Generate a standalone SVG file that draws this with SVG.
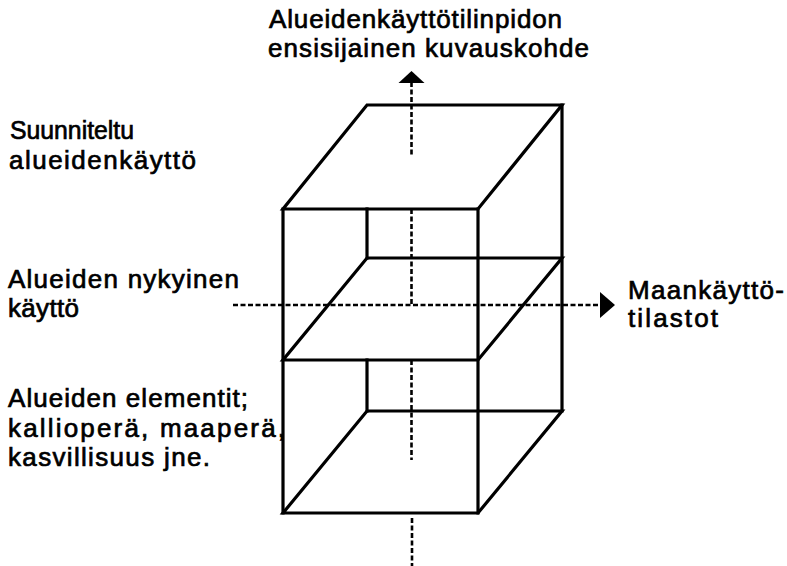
<svg xmlns="http://www.w3.org/2000/svg" width="787" height="566" viewBox="0 0 787 566">
  <style>
    .edge { fill: none; stroke: #000; stroke-width: 3.2; stroke-linejoin: miter; stroke-linecap: square; }
    .axis { fill: none; stroke: #000; stroke-width: 2.6; stroke-dasharray: 5 2.5; }
    .head { fill: #000; stroke: none; }
    .lbl { font-family: "Liberation Sans", Arial, Helvetica, sans-serif; font-size: 26px; fill: #000; stroke: #000; stroke-width: 0.7; }
  </style>
  <rect width="787" height="566" fill="#fff"/>

  <!-- layered land-use block: three stacked levels in oblique projection -->
  <g id="block">
    <!-- top face -->
    <polygon class="edge" points="367,105 562,105 478,209 283,209"/>
    <!-- front verticals and back-right vertical -->
    <line class="edge" x1="283" y1="209" x2="283" y2="513"/>
    <line class="edge" x1="478" y1="209" x2="478" y2="513"/>
    <line class="edge" x1="562" y1="105" x2="562" y2="411"/>
    <!-- back-left vertical, upper level -->
    <line class="edge" x1="367" y1="209" x2="367" y2="258"/>
    <!-- middle plane -->
    <polygon class="edge" points="367,258 562,258 478,360 283,360"/>
    <!-- back-left vertical, lower level -->
    <line class="edge" x1="367" y1="360" x2="367" y2="411"/>
    <!-- bottom plane -->
    <polygon class="edge" points="367,411 562,411 478,513 283,513"/>
  </g>

  <!-- dashed axes -->
  <g id="connectors">
    <g id="axis-vertical">
      <line class="axis" x1="411.5" y1="82" x2="411.5" y2="155"/>
      <line class="axis" x1="411.5" y1="209" x2="411.5" y2="305"/>
      <line class="axis" x1="411.5" y1="360" x2="411.5" y2="460"/>
      <line class="axis" x1="412" y1="518" x2="412" y2="566"/>
      <polygon class="head" points="411.5,71 424.5,83 398.5,83"/>
    </g>
    <g id="axis-horizontal">
      <line class="axis" x1="233" y1="305" x2="601" y2="305"/>
      <polygon class="head" points="615,305 600,292 600,318"/>
    </g>
  </g>

  <!-- labels -->
  <g id="label-top">
    <text class="lbl" x="269" y="28" textLength="293" lengthAdjust="spacing">Alueidenkäyttötilinpidon</text>
    <text class="lbl" x="268" y="57" textLength="321" lengthAdjust="spacing">ensisijainen kuvauskohde</text>
  </g>
  <g id="label-planned">
    <text class="lbl" x="10" y="139" textLength="124" lengthAdjust="spacingAndGlyphs">Suunniteltu</text>
    <text class="lbl" x="9" y="169" textLength="187" lengthAdjust="spacing">alueidenkäyttö</text>
  </g>
  <g id="label-current">
    <text class="lbl" x="8" y="287.5" textLength="231" lengthAdjust="spacing">Alueiden nykyinen</text>
    <text class="lbl" x="8" y="316.5" textLength="71" lengthAdjust="spacing">käyttö</text>
  </g>
  <g id="label-elements">
    <text class="lbl" x="8" y="406.5" textLength="240" lengthAdjust="spacing">Alueiden elementit;</text>
    <text class="lbl" x="8" y="436.5" textLength="277" lengthAdjust="spacing">kallioperä, maaperä,</text>
    <text class="lbl" x="8" y="466" textLength="202" lengthAdjust="spacing">kasvillisuus jne.</text>
  </g>
  <g id="label-statistics">
    <text class="lbl" x="628" y="298.5" textLength="156" lengthAdjust="spacing">Maankäyttö-</text>
    <text class="lbl" x="628" y="327" textLength="90" lengthAdjust="spacing">tilastot</text>
  </g>
</svg>
